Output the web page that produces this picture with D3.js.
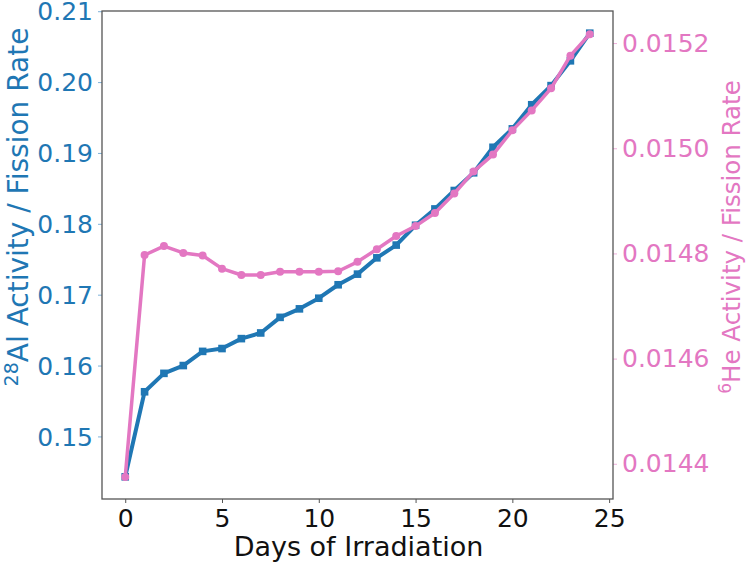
<!DOCTYPE html>
<html><head><meta charset="utf-8">
<script src="https://cdn.jsdelivr.net/npm/d3@7"></script>
<style>body{margin:0;background:#fff}svg{display:block}text{font-family:"DejaVu Sans",sans-serif}</style>
</head><body><svg id="c" width="750" height="565"></svg>
<script>
const days = [0,1,2,3,4,5,6,7,8,9,10,11,12,13,14,15,16,17,18,19,20,21,22,23,24];
const al28 = [0.1443,0.1563,0.1589,0.1600,0.1620,0.1624,0.1638,0.1646,0.1668,0.1680,0.1695,0.1714,0.1729,0.1752,0.1770,0.1798,0.1821,0.1847,0.1872,0.1908,0.1934,0.1968,0.1995,0.2030,0.2069];
const he6 = [0.014375,0.014797,0.014814,0.014801,0.014796,0.014771,0.014759,0.014759,0.014765,0.014765,0.014765,0.014766,0.014784,0.014808,0.014833,0.014852,0.014877,0.014914,0.014956,0.014988,0.015034,0.015072,0.015114,0.015176,0.015217];
const xTicks = [0,5,10,15,20,25];
const leftTicks = [0.15,0.16,0.17,0.18,0.19,0.20,0.21];
const rightTicks = [0.0144,0.0146,0.0148,0.0150,0.0152];

const BLUE = "#1f77b4", PINK = "#e377c2";
const L = 102, R = 613, T = 11, B = 499;
const svg = d3.select("#c");

const x = d3.scaleLinear().domain([-1.2, 25.2]).range([L, R]);
const yL = d3.scaleLinear().domain([0.14117, 0.21003]).range([B, T]);
const yR = d3.scaleLinear().domain([0.014333, 0.015261]).range([B, T]);

function styleAxis(g, color, fs) {
  g.select(".domain").remove();
  g.selectAll(".tick line").attr("stroke", color).attr("stroke-width", 1);
  g.selectAll(".tick text").attr("fill", color).attr("font-size", fs).attr("font-family", "DejaVu Sans");
}

svg.append("g").attr("transform", `translate(0,${B})`)
  .call(d3.axisBottom(x).tickValues(xTicks).tickFormat(d3.format("d")).tickSize(4).tickPadding(6))
  .call(g => styleAxis(g, "#111", 25))
  .call(g => g.selectAll(".tick line").attr("stroke", "#555"));

svg.append("g").attr("transform", `translate(${L},0)`)
  .call(d3.axisLeft(yL).tickValues(leftTicks).tickFormat(d3.format(".2f")).tickSize(4).tickPadding(5))
  .call(g => styleAxis(g, BLUE, 25))
  .call(g => g.selectAll(".tick line").attr("stroke", "#7fb2d9"))
  .call(g => g.selectAll(".tick text").attr("dy", "0.35em"));

svg.append("g").attr("transform", `translate(${R},0)`)
  .call(d3.axisRight(yR).tickValues(rightTicks).tickFormat(d3.format(".4f")).tickSize(4).tickPadding(5))
  .call(g => styleAxis(g, PINK, 25))
  .call(g => g.selectAll(".tick line").attr("stroke", "#efb0dc"));

svg.append("rect").attr("x", L).attr("y", T).attr("width", R - L).attr("height", B - T)
  .attr("fill", "none").attr("stroke", "#555").attr("stroke-width", 1.3);

const lineL = d3.line().x((d, i) => x(days[i])).y(d => yL(d));
const lineR = d3.line().x((d, i) => x(days[i])).y(d => yR(d));

svg.append("path").datum(al28).attr("d", lineL).attr("fill", "none")
  .attr("stroke", BLUE).attr("stroke-width", 4).attr("stroke-linejoin", "round");
svg.append("g").selectAll("rect").data(al28).join("rect")
  .attr("x", (d, i) => x(days[i]) - 3.8).attr("y", d => yL(d) - 3.8)
  .attr("width", 7.6).attr("height", 7.6).attr("fill", BLUE);

svg.append("path").datum(he6).attr("d", lineR).attr("fill", "none")
  .attr("stroke", PINK).attr("stroke-width", 3.5).attr("stroke-linejoin", "round");
svg.append("g").selectAll("circle").data(he6).join("circle")
  .attr("cx", (d, i) => x(days[i])).attr("cy", d => yR(d)).attr("r", 4).attr("fill", PINK);

svg.append("text").attr("x", (L + R) / 2 + 1).attr("y", 556).attr("text-anchor", "middle")
  .attr("font-size", 27).attr("fill", "#111").text("Days of Irradiation");

const tl = svg.append("text").attr("transform", "translate(28,207) rotate(-90)")
  .attr("text-anchor", "middle").attr("font-size", 28).attr("fill", BLUE);
tl.append("tspan").attr("font-size", 19).attr("dy", -10).text("28");
tl.append("tspan").attr("dy", 10).text("Al Activity / Fission Rate");

const tr = svg.append("text").attr("transform", "translate(740,237) rotate(-90)")
  .attr("text-anchor", "middle").attr("font-size", 24.5).attr("fill", PINK);
tr.append("tspan").attr("font-size", 17).attr("dy", -9).text("6");
tr.append("tspan").attr("dy", 9).text("He Activity / Fission Rate");
</script></body></html>
